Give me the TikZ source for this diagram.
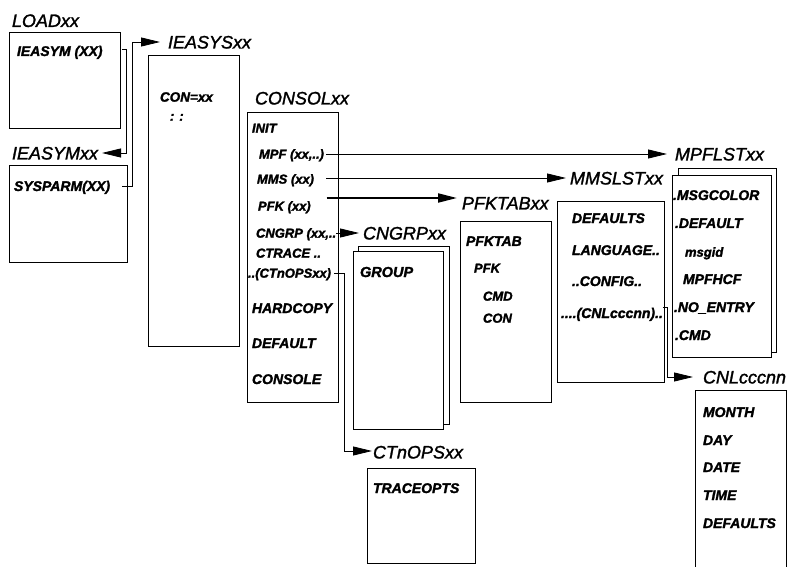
\documentclass[tikz,border=0pt]{standalone}
\usepackage{fontspec}
\setmainfont{Liberation Sans}
\newfontfamily\ttlfont{Liberation Sans Italic}[FakeBold=1.5]
\newfontfamily\itmfont{Liberation Sans Bold Italic}[FakeBold=1.8]
\usetikzlibrary{arrows.meta}
\begin{document}
\begin{tikzpicture}[x=1pt,y=-1pt,
  box/.style={draw, line width=0.8pt, fill=white, inner sep=0pt, outer sep=0pt, anchor=north west},
  ttl/.style={anchor=west, inner sep=0pt, outer sep=0pt, text height=12.9pt, text depth=0pt,
    font=\fontsize{18}{18}\ttlfont},
  itm/.style={anchor=west, inner sep=0pt, outer sep=0pt, text height=10pt, text depth=0pt,
    font=\fontsize{14}{14}\itmfont},
  sitm/.style={itm, text height=9.3pt, font=\fontsize{13}{13}\itmfont},
  conn/.style={line width=0.8pt, -{Triangle[length=19pt,width=9pt]}},
  heavy/.style={conn, line width=2pt},
]
\useasboundingbox (0,0) rectangle (788,567);

% ---- member boxes ----
\node[box, minimum width=111pt, minimum height=96pt]  (loadbox)   at (9,32) {};
\node[box, minimum width=118pt, minimum height=97pt]  (ieasymbox) at (9,165) {};
\node[box, minimum width=91pt,  minimum height=291pt] (ieasysbox) at (148,55) {};
\node[box, minimum width=91pt,  minimum height=290pt] (consolbox) at (247,112) {};
\node[box, minimum width=91pt,  minimum height=178pt] (cngrpback) at (358,246) {};
\node[box, minimum width=90pt,  minimum height=178pt] (cngrpbox)  at (353,251) {};
\node[box, minimum width=91pt,  minimum height=181pt] (pfktabbox) at (460,221) {};
\node[box, minimum width=107pt, minimum height=181pt] (mmslstbox) at (557,201) {};
\node[box, minimum width=98pt,  minimum height=184pt] (mpfback)   at (678,168) {};
\node[box, minimum width=99pt,  minimum height=182pt] (mpflstbox) at (672,175) {};
\node[box, minimum width=108pt, minimum height=95pt]  (ctnopsbox) at (367,468) {};
\node[box, minimum width=91pt,  minimum height=200pt] (cnlbox)    at (695,390) {};

% ---- titles ----
\node[ttl] (loadt)   at (12,20.5) {LOADxx};
\node[ttl] (ieasymt) at (12,153)  {IEASYMxx};
\node[ttl] (ieasyst) at (168,42)  {IEASYSxx};
\node[ttl] (consolt) at (255,98)  {CONSOLxx};
\node[ttl] (cngrpt)  at (363,233) {CNGRPxx};
\node[ttl] (pfktabt) at (462,203) {PFKTABxx};
\node[ttl] (mmslstt) at (570,178) {MMSLSTxx};
\node[ttl] (mpflstt) at (675,154) {MPFLSTxx};
\node[ttl] (ctnopst) at (373,452) {CTnOPSxx};
\node[ttl] (cnlt)    at (703,377) {CNLcccnn};

% ---- LOADxx / IEASYMxx / IEASYSxx ----
\node[itm] (ieasym)  at (17,51)  {IEASYM (XX)};
\node[itm] (sysparm) at (14,186) {SYSPARM(XX)};
\node[sitm, font=\fontsize{13.5}{13.5}\itmfont] (conxx) at (160,97) {CON=xx};
\node[sitm] (condots) at (170,116) {:\hspace{5pt}:};

% ---- CONSOLxx ----
\node[sitm] (init)   at (252,128) {INIT};
\node[sitm] (mpf)    at (259,154) {MPF (xx,..)};
\node[sitm] (mms)    at (257,179) {MMS (xx)};
\node[sitm] (pfk)    at (258,206) {PFK (xx)};
\node[sitm] (cngrp)  at (256,233) {CNGRP (xx,..};
\node[sitm] (ctrace) at (256,253) {CTRACE ..};
\node[sitm] (ctn)    at (248,273) {..(CTnOPSxx)};
\node[itm]  (hard)   at (252,308) {HARDCOPY};
\node[itm]  (cdef)   at (252,343) {DEFAULT};
\node[itm]  (ccons)  at (252,379) {CONSOLE};

% ---- CNGRPxx ----
\node[itm, font=\fontsize{14.5}{14.5}\itmfont] (group) at (360,272) {GROUP};

% ---- PFKTABxx ----
\node[itm]  (pfktab) at (466,241) {PFKTAB};
\node[sitm] (pfkk)   at (474,268) {PFK};
\node[sitm] (cmd)    at (483,296) {CMD};
\node[sitm] (con)    at (483,318) {CON};

% ---- MMSLSTxx ----
\node[itm] (mdef)   at (572,218) {DEFAULTS};
\node[itm] (lang)   at (572,250) {LANGUAGE..};
\node[itm] (config) at (572,281) {..CONFIG..};
\node[itm] (cnlref) at (561,313) {....(CNLcccnn)..};

% ---- MPFLSTxx ----
\node[itm]  (msgcolor) at (673,195) {.MSGCOLOR};
\node[itm]  (pdef)     at (675,223) {.DEFAULT};
\node[sitm] (msgid)    at (685,252) {msgid};
\node[itm]  (mpfhcf)   at (683,279) {MPFHCF};
\node[itm]  (noentry)  at (674,307) {.NO\_ENTRY};
\node[itm]  (pcmd)     at (675,335) {.CMD};

% ---- CTnOPSxx ----
\node[itm] (traceopts) at (373,488) {TRACEOPTS};

% ---- CNLcccnn ----
\node[itm] (month) at (703,412) {MONTH};
\node[itm] (day)   at (703,440) {DAY};
\node[itm] (date)  at (703,467) {DATE};
\node[itm] (time)  at (703,495) {TIME};
\node[itm] (cdefs) at (703,523) {DEFAULTS};

% ---- connectors ----
\draw[conn, shorten >=4pt]
  ([shift={(2pt,2pt)}]ieasym -| loadbox.east) -- ++(4,0) |- (ieasymt.east);
\draw[conn, shorten >=8pt]
  ([xshift=-5pt]sysparm -| ieasymbox.east) -- ++(10,0) |- (ieasyst.west);
\draw[conn, shorten <=2pt, shorten >=8pt] (mpf.east) -- (mpf.east -| mpflstt.west);
\draw[conn, shorten <=12pt, shorten >=4pt]
  ([yshift=1pt]mms.east) -- ([yshift=1pt]mms.east -| mmslstt.west);
\draw[heavy, shorten <=16pt, shorten >=5pt]
  ([yshift=8pt]pfk.east) -- ([yshift=8pt]pfk.east -| pfktabt.west);
\draw[conn, shorten >=4pt] (cngrp.east) -- (cngrpt.west);
\draw[conn, shorten <=3pt, shorten >=1pt]
  (ctn.east) -- ([xshift=6pt]ctn.east -| consolbox.east) |- ([yshift=1pt]ctnopst.west);
\draw[conn, shorten >=10pt]
  ([yshift=6pt]cnlref.east) -- ([shift={(3pt,6pt)}]cnlref.east -| mmslstbox.east) |- (cnlt.west);
\end{tikzpicture}
\end{document}
